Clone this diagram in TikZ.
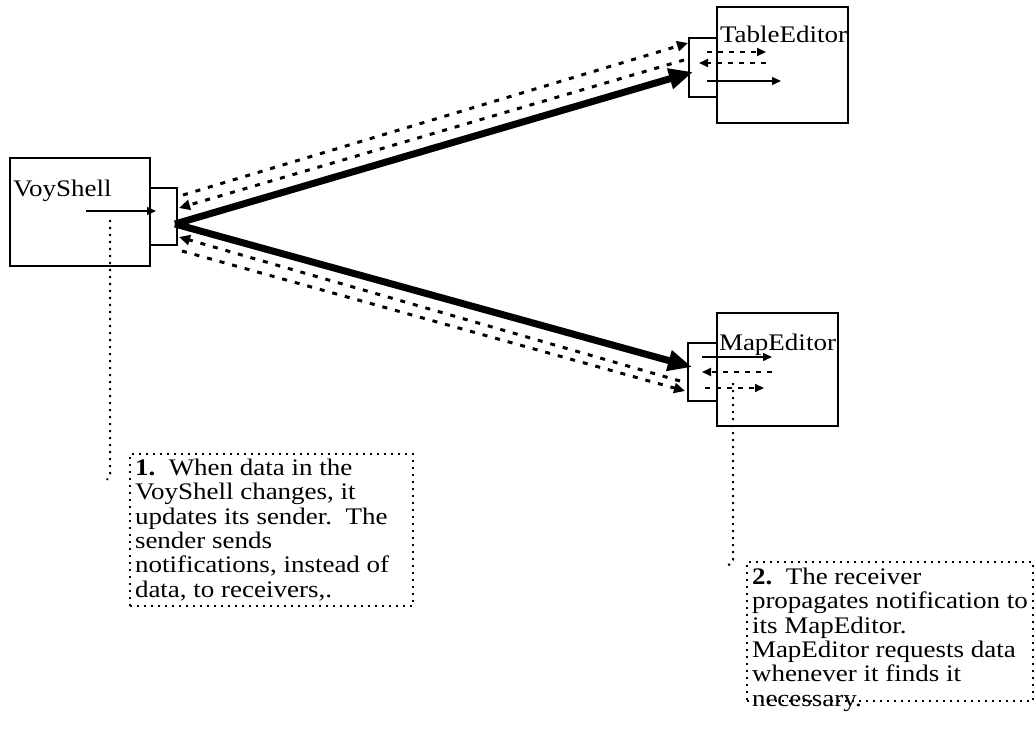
\documentclass[tikz,border=0pt]{standalone}
\usepackage{fontspec}
\usepackage{graphicx}
\setmainfont{Liberation Serif}
\usetikzlibrary{arrows.meta}
\newcommand\vsq[1]{\scalebox{1}[0.88]{#1}}
\begin{document}
\begin{tikzpicture}[x=1pt,y=-1pt,
  every node/.style={inner sep=0pt,outer sep=0pt},
  sbox/.style={draw,line width=1.4pt,anchor=north west},
  nbox/.style={draw,line width=2pt,dash pattern=on 2.2pt off 4.8pt,anchor=north west},
  lbl/.style={font=\fontsize{27}{31}\selectfont,anchor=base west},
  ntext/.style={font=\fontsize{27}{27.84}\selectfont,anchor=north west},
  thinarrow/.style={line width=1.4pt,-{Triangle[length=9pt,width=8pt]}},
  thickarrow/.style={line width=7pt,-{Triangle[length=24pt,width=20pt]}},
  diagdots/.style={line width=3pt,dash pattern=on 5pt off 8pt,-{Triangle[length=11pt,width=10pt]}},
  shortdots/.style={line width=2pt,dash pattern=on 5pt off 6pt,-{Triangle[length=9pt,width=8pt]}},
  leaddots/.style={line width=2pt,dash pattern=on 2.2pt off 4.8pt},
]
\useasboundingbox (0,0) rectangle (1034,730);

% VoyShell
\node[sbox,minimum width=27pt,minimum height=57pt] (vport) at (150,188) {};
\node[sbox,minimum width=140pt,minimum height=108pt] (voy) at (10,158) {};
\node[lbl] (voyt) at (13,197) {\vsq{VoyShell}};

% TableEditor
\node[sbox,minimum width=28pt,minimum height=59pt] (tport) at (689,38) {};
\node[sbox,minimum width=131pt,minimum height=116pt] (tab) at (717,7) {};
\node[lbl] (tabt) at (720,43) {\vsq{TableEditor}};

% MapEditor
\node[sbox,minimum width=29pt,minimum height=58pt] (mport) at (688,343) {};
\node[sbox,minimum width=121pt,minimum height=113pt] (map) at (717,313) {};
\node[lbl] (mapt) at (719,350) {\vsq{MapEditor}};

% notes
\node[nbox,minimum width=283pt,minimum height=152pt] (note1) at (130,454) {};
\node[ntext] (note1t) at (135,457.85) {\vsq{\begin{tabular}{@{}l@{}}\textbf{1.}\ \ When data in the\\VoyShell changes, it\\updates its sender.\ \ The\\sender sends\\notifications, instead of\\data, to receivers,.\end{tabular}}};
\node[nbox,minimum width=286pt,minimum height=139pt] (note2) at (747,562) {};
\node[ntext] (note2t) at (752,566.85) {\vsq{\begin{tabular}{@{}l@{}}\textbf{2.}\ \ The receiver\\propagates notification to\\its MapEditor.\\MapEditor requests data\\whenever it finds it\\necessary.\end{tabular}}};

% coordinates
\coordinate (vin) at (86,211);
\coordinate (vinE) at (156,211);
\coordinate (vT) at (175,224);
\coordinate (tT) at (693,72);
\coordinate (mT) at (692,367);
\coordinate (vA) at (183,195);
\coordinate (tA) at (688,43);
\coordinate (tB) at (684,60);
\coordinate (vB) at (179,208);
\coordinate (mC) at (680,381);
\coordinate (vC) at (179,237);
\coordinate (vD) at (182,251);
\coordinate (mD) at (685,391);
\coordinate (t1s) at (707,52);
\coordinate (t1e) at (766,52);
\coordinate (t2s) at (766,63);
\coordinate (t2e) at (699,63);
\coordinate (t3s) at (707,81);
\coordinate (t3e) at (781,81);
\coordinate (m1s) at (702,357);
\coordinate (m1e) at (772,357);
\coordinate (m2s) at (772,372);
\coordinate (m2e) at (702,372);
\coordinate (m3s) at (705,388);
\coordinate (m3e) at (764,388);
\coordinate (l1s) at (110,220);
\coordinate (l1m) at (110,474);
\coordinate (l1e) at (107,480);
\coordinate (l2s) at (733,383);
\coordinate (l2m) at (733,560);
\coordinate (l2e) at (727,567);

% connectors
\draw[thinarrow] (vin) -- (vinE);
\draw[diagdots] (vA) -- (tA);
\draw[diagdots] (tB) -- (vB);
\draw[diagdots] (mC) -- (vC);
\draw[diagdots] (vD) -- (mD);
\draw[thickarrow] (vT) -- (tT);
\draw[thickarrow] (vT) -- (mT);
\draw[shortdots] (t1s) -- (t1e);
\draw[shortdots] (t2s) -- (t2e);
\draw[thinarrow] (t3s) -- (t3e);
\draw[thinarrow] (m1s) -- (m1e);
\draw[shortdots] (m2s) -- (m2e);
\draw[shortdots] (m3s) -- (m3e);
\draw[leaddots] (l1s) -- (l1m) -- (l1e);
\draw[leaddots] (l2s) -- (l2m) -- (l2e);
\end{tikzpicture}
\end{document}
